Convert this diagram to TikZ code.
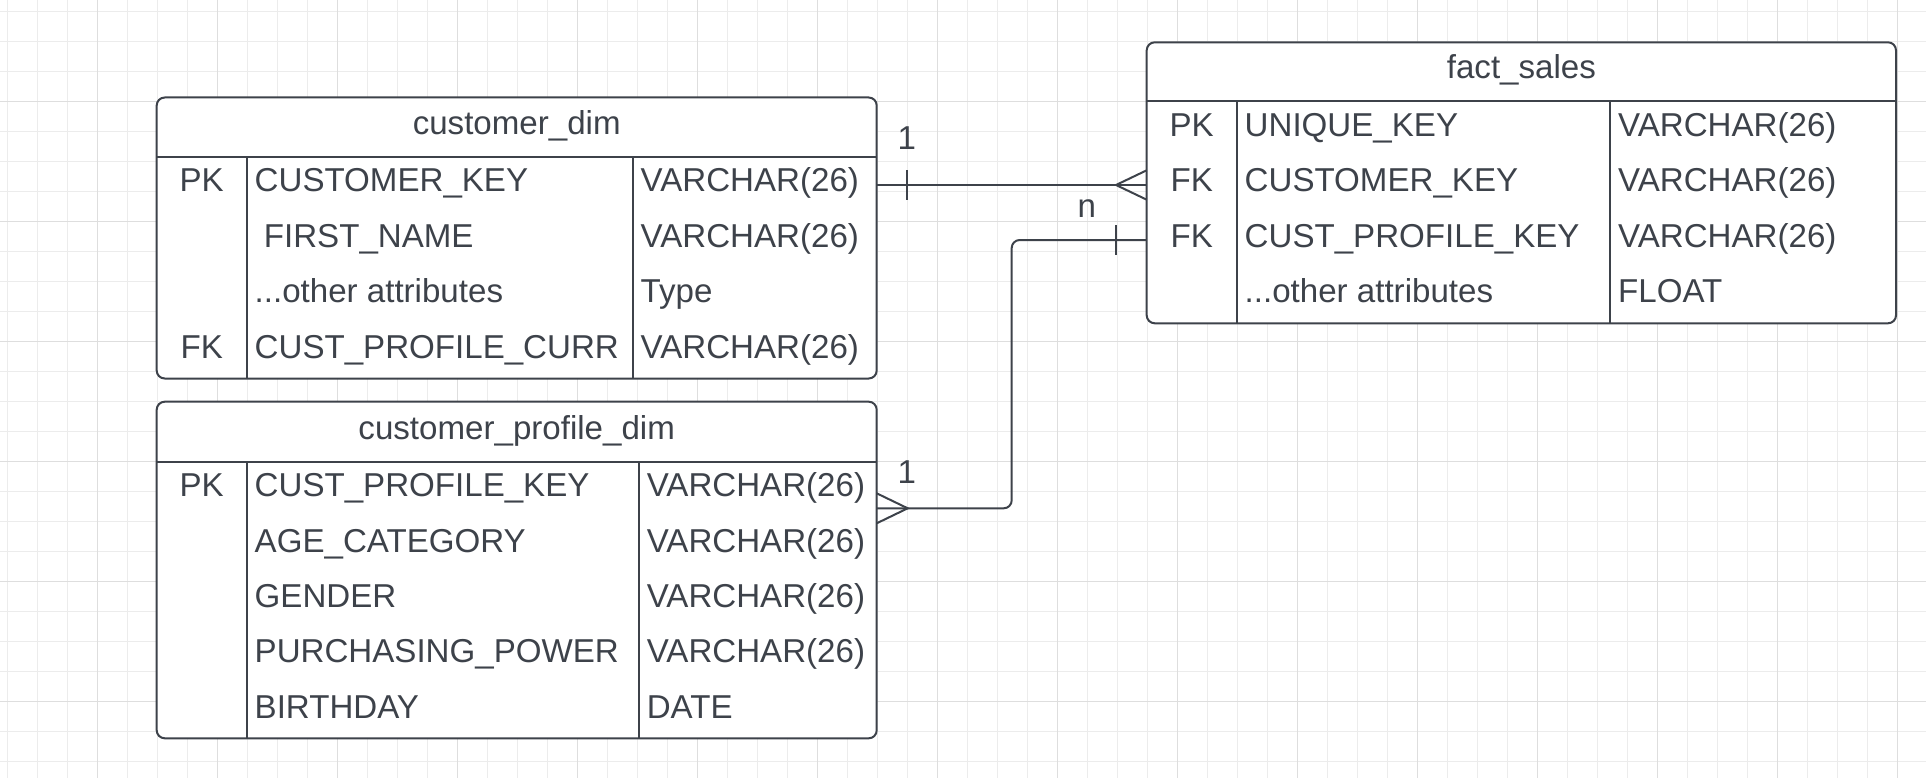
\documentclass[tikz,border=0pt]{standalone}
\usepackage{fontspec}
\setmainfont{Liberation Sans}
\usetikzlibrary{calc}

\definecolor{ink}{RGB}{61,66,74}
\definecolor{gridlight}{RGB}{236,236,236}
\definecolor{griddark}{RGB}{222,222,222}

\tikzset{
  tablebox/.style={draw=ink, line width=2pt, rounded corners=8pt, fill=white,
    inner sep=0pt, outer sep=0pt},
  sepline/.style={draw=ink, line width=2pt},
  cell/.style={inner sep=0pt, anchor=base west, text=ink,
    font=\fontsize{33.1}{40}\selectfont},
  keycell/.style={cell, anchor=base},
  rel/.style={draw=ink, line width=2pt},
}

\begin{document}
\begin{tikzpicture}[x=1pt, y=-1pt]
        \useasboundingbox (0,0) rectangle (1926,778);

        % background grid
        \foreach \x in {7.3,37.3,...,1926} \draw[gridlight, line width=1.5pt] (\x,0) -- (\x,778);
        \foreach \y in {11.7,41.7,...,778} \draw[gridlight, line width=1.5pt] (0,\y) -- (1926,\y);
        \foreach \x in {97.3,217.3,...,1926} \draw[griddark, line width=1.5pt] (\x,0) -- (\x,778);
        \foreach \y in {101.7,221.7,...,778} \draw[griddark, line width=1.5pt] (0,\y) -- (1926,\y);

        % customer_dim
        \node[tablebox, minimum width=720pt, minimum height=281pt] (cdim) at (516.7,238) {};
        \draw[sepline] (156.7,156.7) -- (876.7,156.7);
        \draw[sepline] (246.7,156.7) -- (246.7,378.5);
        \draw[sepline] (632.6,156.7) -- (632.6,378.5);
        \node[keycell] (cdim-title) at (516.7,134.3) {customer\_dim};
        \node[keycell] (cdim-k1) at (201.7,191.8) {PK};
        \node[keycell] (cdim-k4) at (201.7,358.3) {FK};
        \node[cell] (cdim-n1) at (254.5,191.8) {CUSTOMER\_KEY};
        \node[cell] (cdim-n2) at (254.5,247.3) {\ FIRST\_NAME};
        \node[cell] (cdim-n3) at (254.5,302.8) {...other attributes};
        \node[cell] (cdim-n4) at (254.5,358.3) {CUST\_PROFILE\_CURR};
        \node[cell] (cdim-t1) at (640.5,191.8) {VARCHAR(26)};
        \node[cell] (cdim-t2) at (640.5,247.3) {VARCHAR(26)};
        \node[cell] (cdim-t3) at (640.5,302.8) {Type};
        \node[cell] (cdim-t4) at (640.5,358.3) {VARCHAR(26)};

        % customer_profile_dim
        \node[tablebox, minimum width=720pt, minimum height=336.6pt] (pdim) at (516.7,570) {};
        \draw[sepline] (156.7,461.7) -- (876.7,461.7);
        \draw[sepline] (246.7,461.7) -- (246.7,738.1);
        \draw[sepline] (638.7,461.7) -- (638.7,738.1);
        \node[keycell] (pdim-title) at (516.7,439) {customer\_profile\_dim};
        \node[keycell] (pdim-k1) at (201.7,496.7) {PK};
        \node[cell] (pdim-n1) at (254.5,496.7) {CUST\_PROFILE\_KEY};
        \node[cell] (pdim-n2) at (254.5,552) {AGE\_CATEGORY};
        \node[cell] (pdim-n3) at (254.5,607.3) {GENDER};
        \node[cell] (pdim-n4) at (254.5,662.6) {PURCHASING\_POWER};
        \node[cell] (pdim-n5) at (254.5,718) {BIRTHDAY};
        \node[cell] (pdim-t1) at (646.6,496.7) {VARCHAR(26)};
        \node[cell] (pdim-t2) at (646.6,552) {VARCHAR(26)};
        \node[cell] (pdim-t3) at (646.6,607.3) {VARCHAR(26)};
        \node[cell] (pdim-t4) at (646.6,662.6) {VARCHAR(26)};
        \node[cell] (pdim-t5) at (646.6,718) {DATE};

        % fact_sales
        \node[tablebox, minimum width=749.3pt, minimum height=281pt] (fsales) at (1521.35,182.8) {};
        \draw[sepline] (1146.7,101.3) -- (1896,101.3);
        \draw[sepline] (1236.7,101.3) -- (1236.7,323.1);
        \draw[sepline] (1610,101.3) -- (1610,323.1);
        \node[keycell] (fsales-title) at (1521.35,78.6) {fact\_sales};
        \node[keycell] (fsales-k1) at (1191.7,136.4) {PK};
        \node[keycell] (fsales-k2) at (1191.7,191.9) {FK};
        \node[keycell] (fsales-k3) at (1191.7,247.4) {FK};
        \node[cell] (fsales-n1) at (1244.5,136.4) {UNIQUE\_KEY};
        \node[cell] (fsales-n2) at (1244.5,191.9) {CUSTOMER\_KEY};
        \node[cell] (fsales-n3) at (1244.5,247.4) {CUST\_PROFILE\_KEY};
        \node[cell] (fsales-n4) at (1244.5,302.9) {...other attributes};
        \node[cell] (fsales-t1) at (1618,136.4) {VARCHAR(26)};
        \node[cell] (fsales-t2) at (1618,191.9) {VARCHAR(26)};
        \node[cell] (fsales-t3) at (1618,247.4) {VARCHAR(26)};
        \node[cell] (fsales-t4) at (1618,302.9) {FLOAT};

        % relations
        \coordinate (r1) at (0,185);
        \coordinate (r2) at (0,240);
        \coordinate (r3) at (0,508.3);
        \coordinate (bend) at (1011.7,508.3);

        \draw[rel] (cdim.east |- r1) -- (fsales.west |- r1);
        \draw[rel] ($(cdim.east |- r1)+(30.6,-14.7)$) -- ++(0,29.4);
        \draw[rel] ($(fsales.west |- r1)+(0,-14.7)$) -- ($(fsales.west |- r1)+(-30.7,0)$)
            -- ($(fsales.west |- r1)+(0,14.7)$);
        \node[keycell] (lab-one1) at (906.7,149.3) {1};

        \draw[rel, rounded corners=8pt] (fsales.west |- r2) -| (bend) -- (pdim.east |- r3);
        \draw[rel] ($(fsales.west |- r2)+(-30.7,-14.8)$) -- ++(0,29.6);
        \draw[rel] ($(pdim.east |- r3)+(0,-15)$) -- ($(pdim.east |- r3)+(31,0)$)
            -- ($(pdim.east |- r3)+(0,15)$);
        \node[keycell] (lab-n) at (1086.7,217.3) {n};
        \node[keycell] (lab-one2) at (906.7,483.3) {1};
\end{tikzpicture}
\end{document}
